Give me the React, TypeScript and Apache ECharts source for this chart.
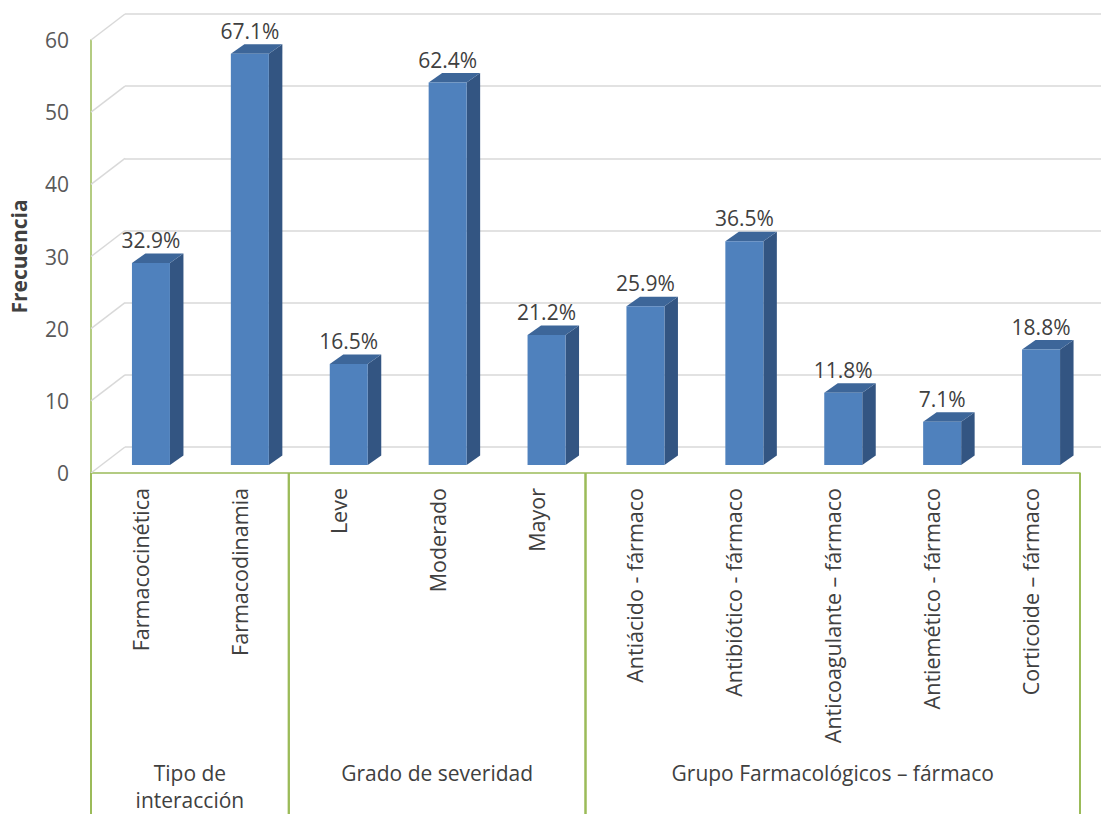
import React, { useEffect, useRef } from "react";
import * as echarts from "echarts";

const categories = [
  "Farmacocinética",
  "Farmacodinamia",
  "Leve",
  "Moderado",
  "Mayor",
  "Antiácido - fármaco",
  "Antibiótico - fármaco",
  "Anticoagulante – fármaco",
  "Antiemético - fármaco",
  "Corticoide – fármaco",
];
const frequencies = [28, 57, 14, 53, 18, 22, 31, 10, 6, 16];
const percentLabels = ["32.9%", "67.1%", "16.5%", "62.4%", "21.2%", "25.9%", "36.5%", "11.8%", "7.1%", "18.8%"];
const groupNames = ["Tipo de\ninteracción", "Grado de severidad", "Grupo Farmacológicos – fármaco"];
const groupStart = [0, 2, 5];
const groupEnd = [1, 4, 9];
const yTickValues = [0, 10, 20, 30, 40, 50, 60];

const FONT = "'Open Sans', sans-serif";
const GREEN = "#9BBB59";
const TEXT = "#404040";
const DEPTH_X = 34;
const DEPTH_Y = -26;
const BAR_SHIFT_X = 10.5;
const BAR_SHIFT_Y = -8;
const BAR_W = 38;
const BAR_DX = 13.5;
const BAR_DY = -9.5;

export default function App() {
  const ref = useRef<HTMLDivElement>(null);
  useEffect(() => {
    const chart = echarts.init(ref.current!, null, { renderer: "svg" });
    const option: any = {
      animation: false,
      backgroundColor: "#ffffff",
      grid: [
        { left: 91, top: 40, right: 21, bottom: 341 },
        { left: 91 + DEPTH_X, top: 40 + DEPTH_Y, right: 0, bottom: 341 - DEPTH_Y },
      ],
      xAxis: [
        {
          type: "category",
          gridIndex: 0,
          data: categories,
          axisLine: { lineStyle: { color: GREEN, width: 1.5 } },
          axisTick: { show: false },
          axisLabel: { rotate: 90, margin: 15, fontSize: 21.5, color: TEXT, fontFamily: FONT, interval: 0 },
        },
        { type: "category", gridIndex: 1, data: categories, show: false },
      ],
      yAxis: [
        {
          type: "value",
          gridIndex: 0,
          min: 0,
          max: 60,
          interval: 10,
          axisLine: { show: true, lineStyle: { color: GREEN, width: 1.5 } },
          axisTick: { show: false },
          splitLine: { show: false },
          axisLabel: { fontSize: 21, color: "#595959", margin: 22, fontFamily: FONT },
          name: "Frecuencia",
          nameLocation: "middle",
          nameGap: 62,
          nameTextStyle: { fontWeight: "bold", fontSize: 21, color: TEXT, fontFamily: FONT },
        },
        {
          type: "value",
          gridIndex: 1,
          min: 0,
          max: 60,
          interval: 10,
          axisLine: { show: false },
          axisTick: { show: false },
          axisLabel: { show: false },
          splitLine: { lineStyle: { color: "#d9d9d9", width: 1.5 } },
        },
      ],
      series: [
        {
          type: "custom",
          xAxisIndex: 0,
          yAxisIndex: 0,
          data: yTickValues.map((v) => [0, v]),
          silent: true,
          renderItem: (params: any, api: any) => {
            const p = api.coord([0, api.value(1)]);
            const x0 = params.coordSys.x;
            return {
              type: "line",
              shape: { x1: x0, y1: p[1], x2: x0 + DEPTH_X, y2: p[1] + DEPTH_Y },
              style: { stroke: "#d9d9d9", lineWidth: 1.5 },
            };
          },
        },
        {
          type: "custom",
          xAxisIndex: 0,
          yAxisIndex: 0,
          data: frequencies.map((v, i) => [i, v]),
          renderItem: (params: any, api: any) => {
            const i = api.value(0);
            const base = api.coord([i, 0]);
            const top = api.coord([i, api.value(1)]);
            const L = base[0] - BAR_W / 2 + BAR_SHIFT_X;
            const R = L + BAR_W;
            const by = base[1] + BAR_SHIFT_Y;
            const ty = top[1] + BAR_SHIFT_Y;
            return {
              type: "group",
              children: [
                {
                  type: "polygon",
                  shape: { points: [[R, ty], [R + BAR_DX, ty + BAR_DY], [R + BAR_DX, by + BAR_DY], [R, by]] },
                  style: { fill: "#335582" },
                },
                {
                  type: "polygon",
                  shape: { points: [[L, ty], [L + BAR_DX, ty + BAR_DY], [R + BAR_DX, ty + BAR_DY], [R, ty]] },
                  style: { fill: "#3D6699" },
                },
                {
                  type: "rect",
                  shape: { x: L, y: ty, width: BAR_W, height: by - ty },
                  style: { fill: "#4F81BD" },
                },
                {
                  type: "text",
                  style: {
                    text: percentLabels[i],
                    x: L + BAR_W / 2,
                    y: ty + BAR_DY - 3,
                    align: "center",
                    verticalAlign: "bottom",
                    fontSize: 21,
                    fill: TEXT,
                    fontFamily: FONT,
                  },
                },
              ],
            };
          },
        },
        {
          type: "custom",
          xAxisIndex: 0,
          yAxisIndex: 0,
          data: groupStart.map((s, k) => [s, groupEnd[k]]),
          silent: true,
          renderItem: (params: any, api: any) => {
            const k = params.dataIndex;
            const band = api.size([1, 0])[0];
            const left = api.coord([api.value(0), 0])[0] - band / 2;
            const right = api.coord([api.value(1), 0])[0] + band / 2;
            const y0 = params.coordSys.y + params.coordSys.height;
            return {
              type: "group",
              children: [
                { type: "line", shape: { x1: left, y1: y0, x2: left, y2: 814 }, style: { stroke: GREEN, lineWidth: 2 } },
                { type: "line", shape: { x1: right, y1: y0, x2: right, y2: 814 }, style: { stroke: GREEN, lineWidth: 2 } },
                {
                  type: "text",
                  style: {
                    text: groupNames[k],
                    x: (left + right) / 2,
                    y: 759,
                    align: "center",
                    verticalAlign: "top",
                    fontSize: 21,
                    lineHeight: 27,
                    fill: TEXT,
                    fontFamily: FONT,
                  },
                },
              ],
            };
          },
        },
      ],
    };
    chart.setOption(option);
    return () => chart.dispose();
  }, []);
  return <div ref={ref} style={{ position: "absolute", left: 0, top: 0, width: 1101, height: 814 }} />;
}
